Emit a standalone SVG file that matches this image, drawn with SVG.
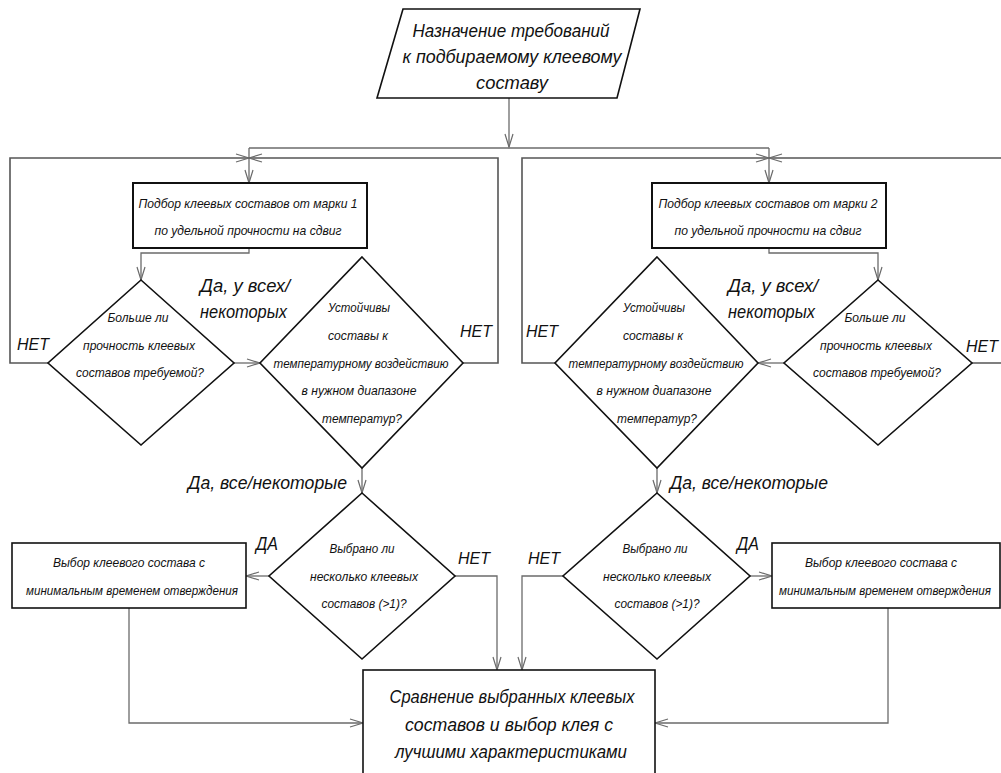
<svg xmlns="http://www.w3.org/2000/svg" width="1001" height="773" viewBox="0 0 1001 773">
<style>
.shape{fill:#fff;stroke:#111;stroke-width:1.6}
.box{fill:#fff;stroke:#111;stroke-width:2}
.con{fill:none;stroke:#6b6b6b;stroke-width:1.3}
.loop{fill:none;stroke:#555;stroke-width:1.6}
text{font-family:"Liberation Sans",Arial,sans-serif;font-style:italic;fill:#111}
.s{font-size:13px;text-anchor:middle}
.t{font-size:12px;text-anchor:middle}
.m{font-size:19px;text-anchor:middle}
.l{font-size:19px}
.n{font-size:17px}
</style>
<defs>
<marker id="arr" markerUnits="userSpaceOnUse" markerWidth="16" markerHeight="10" refX="14" refY="5" orient="auto" viewBox="0 0 16 10">
<path d="M1,1 L14,5 L1,9" fill="none" stroke="#6b6b6b" stroke-width="1.2"/>
</marker>
</defs>
<rect width="1001" height="773" fill="#fff"/>
<g id="connectors">
<path class="con" d="M509,98 V147" marker-end="url(#arr)"/>
<path class="con" d="M249,148 H769"/>
<path class="con" d="M249,148 V183" marker-end="url(#arr)"/>
<path class="con" d="M769,148 V183" marker-end="url(#arr)"/>
<path class="loop" d="M48,363 H10 V158 H249" marker-end="url(#arr)"/>
<path class="loop" d="M463,363 H498 V158 H249" marker-end="url(#arr)"/>
<path class="con" d="M249,248 V253 H141 V280" marker-end="url(#arr)"/>
<path class="con" d="M234,363 H260" marker-end="url(#arr)"/>
<path class="con" d="M362,468 V493" marker-end="url(#arr)"/>
<path class="con" d="M269,576 H246" marker-end="url(#arr)"/>
<path class="con" d="M455,576 H497 V670" marker-end="url(#arr)"/>
<path class="con" d="M129,608 V723 H363" marker-end="url(#arr)"/>
<path class="loop" d="M555,363 H522 V158 H769" marker-end="url(#arr)"/>
<path class="loop" d="M972,363 H1010 V158 H769" marker-end="url(#arr)"/>
<path class="con" d="M769,248 V253 H878 V280" marker-end="url(#arr)"/>
<path class="con" d="M784,363 H758" marker-end="url(#arr)"/>
<path class="con" d="M657,468 V493" marker-end="url(#arr)"/>
<path class="con" d="M750,576 H772" marker-end="url(#arr)"/>
<path class="con" d="M563,576 H522 V670" marker-end="url(#arr)"/>
<path class="con" d="M888,608 V723 H655" marker-end="url(#arr)"/>
</g>
<g id="start">
<polygon class="shape" points="403,9 640,9 617,98 377,98"/>
<text class="m" x="511" y="37" textLength="197" lengthAdjust="spacingAndGlyphs">Назначение требований</text>
<text class="m" x="512" y="63" textLength="219" lengthAdjust="spacingAndGlyphs">к подбираемому клеевому</text>
<text class="m" x="512" y="89" textLength="72" lengthAdjust="spacingAndGlyphs">составу</text>
</g>
<g id="box1">
<rect class="box" x="133" y="183" width="234" height="65"/>
<text class="s" x="248" y="208" textLength="219" lengthAdjust="spacingAndGlyphs">Подбор клеевых составов от марки 1</text>
<text class="s" x="248" y="235" textLength="187" lengthAdjust="spacingAndGlyphs">по удельной прочности на сдвиг</text>
</g>
<g id="box2">
<rect class="box" x="652" y="183" width="234" height="65"/>
<text class="s" x="768" y="208" textLength="219" lengthAdjust="spacingAndGlyphs">Подбор клеевых составов от марки 2</text>
<text class="s" x="768" y="235" textLength="187" lengthAdjust="spacingAndGlyphs">по удельной прочности на сдвиг</text>
</g>
<g id="d1">
<polygon class="shape" points="141,280 234,363 141,445 48,363"/>
<text class="s" x="138" y="322" textLength="61" lengthAdjust="spacingAndGlyphs">Больше ли</text>
<text class="s" x="139" y="350" textLength="112" lengthAdjust="spacingAndGlyphs">прочность клеевых</text>
<text class="s" x="140" y="377" textLength="128" lengthAdjust="spacingAndGlyphs">составов требуемой?</text>
</g>
<g id="d2">
<polygon class="shape" points="362,257 463,363 362,468 260,363"/>
<text class="s" x="359" y="312" textLength="62" lengthAdjust="spacingAndGlyphs">Устойчивы</text>
<text class="s" x="358" y="340" textLength="60" lengthAdjust="spacingAndGlyphs">составы к</text>
<text class="s" x="361" y="368" textLength="175" lengthAdjust="spacingAndGlyphs">температурному воздействию</text>
<text class="s" x="359" y="395" textLength="115" lengthAdjust="spacingAndGlyphs">в нужном диапазоне</text>
<text class="s" x="362" y="423" textLength="80" lengthAdjust="spacingAndGlyphs">температур?</text>
</g>
<g id="d3">
<polygon class="shape" points="362,493 455,576 362,659 269,576"/>
<text class="s" x="362" y="553" textLength="65" lengthAdjust="spacingAndGlyphs">Выбрано ли</text>
<text class="s" x="364" y="581" textLength="108" lengthAdjust="spacingAndGlyphs">несколько клеевых</text>
<text class="s" x="364" y="608" textLength="85" lengthAdjust="spacingAndGlyphs">составов (&gt;1)?</text>
</g>
<g id="r1">
<polygon class="shape" points="878,280 972,363 878,445 784,363"/>
<text class="s" x="875" y="322" textLength="61" lengthAdjust="spacingAndGlyphs">Больше ли</text>
<text class="s" x="876" y="350" textLength="112" lengthAdjust="spacingAndGlyphs">прочность клеевых</text>
<text class="s" x="877" y="377" textLength="128" lengthAdjust="spacingAndGlyphs">составов требуемой?</text>
</g>
<g id="r2">
<polygon class="shape" points="657,257 758,363 657,468 555,363"/>
<text class="s" x="654" y="312" textLength="62" lengthAdjust="spacingAndGlyphs">Устойчивы</text>
<text class="s" x="653" y="340" textLength="60" lengthAdjust="spacingAndGlyphs">составы к</text>
<text class="s" x="656" y="368" textLength="175" lengthAdjust="spacingAndGlyphs">температурному воздействию</text>
<text class="s" x="654" y="395" textLength="115" lengthAdjust="spacingAndGlyphs">в нужном диапазоне</text>
<text class="s" x="657" y="423" textLength="80" lengthAdjust="spacingAndGlyphs">температур?</text>
</g>
<g id="r3">
<polygon class="shape" points="657,493 750,576 657,659 563,576"/>
<text class="s" x="655" y="553" textLength="65" lengthAdjust="spacingAndGlyphs">Выбрано ли</text>
<text class="s" x="657" y="581" textLength="108" lengthAdjust="spacingAndGlyphs">несколько клеевых</text>
<text class="s" x="657" y="608" textLength="85" lengthAdjust="spacingAndGlyphs">составов (&gt;1)?</text>
</g>
<g id="boxL">
<rect class="shape" x="12" y="543" width="234" height="65"/>
<text class="s" x="129" y="567" textLength="152" lengthAdjust="spacingAndGlyphs">Выбор клеевого состава с</text>
<text class="t" x="132" y="595" textLength="212" lengthAdjust="spacingAndGlyphs">минимальным временем отверждения</text>
</g>
<g id="boxR">
<rect class="shape" x="772" y="543" width="228" height="65"/>
<text class="s" x="881" y="567" textLength="152" lengthAdjust="spacingAndGlyphs">Выбор клеевого состава с</text>
<text class="t" x="885" y="595" textLength="212" lengthAdjust="spacingAndGlyphs">минимальным временем отверждения</text>
</g>
<g id="final">
<rect class="shape" x="363" y="670" width="292" height="115"/>
<text class="m" x="512" y="703" textLength="245" lengthAdjust="spacingAndGlyphs">Сравнение выбранных клеевых</text>
<text class="m" x="509" y="731" textLength="208" lengthAdjust="spacingAndGlyphs">составов и выбор клея с</text>
<text class="m" x="511" y="758" textLength="232" lengthAdjust="spacingAndGlyphs">лучшими характеристиками</text>
</g>
<g id="labels">
<text class="l" x="200" y="292" textLength="90" lengthAdjust="spacingAndGlyphs">Да, у всех/</text>
<text class="l" x="200" y="318" textLength="87" lengthAdjust="spacingAndGlyphs">некоторых</text>
<text class="n" x="17" y="350" textLength="32" lengthAdjust="spacingAndGlyphs">НЕТ</text>
<text class="n" x="460" y="337" textLength="32" lengthAdjust="spacingAndGlyphs">НЕТ</text>
<text class="l" x="728" y="292" textLength="90" lengthAdjust="spacingAndGlyphs">Да, у всех/</text>
<text class="l" x="728" y="318" textLength="87" lengthAdjust="spacingAndGlyphs">некоторых</text>
<text class="n" x="526" y="337" textLength="32" lengthAdjust="spacingAndGlyphs">НЕТ</text>
<text class="n" x="966" y="352" textLength="32" lengthAdjust="spacingAndGlyphs">НЕТ</text>
<text class="l" x="188" y="489" textLength="159" lengthAdjust="spacingAndGlyphs">Да, все/некоторые</text>
<text class="l" x="670" y="489" textLength="158" lengthAdjust="spacingAndGlyphs">Да, все/некоторые</text>
<text class="l" x="256" y="550" textLength="22" lengthAdjust="spacingAndGlyphs">ДА</text>
<text class="n" x="458" y="564" textLength="32" lengthAdjust="spacingAndGlyphs">НЕТ</text>
<text class="n" x="528" y="564" textLength="32" lengthAdjust="spacingAndGlyphs">НЕТ</text>
<text class="l" x="737" y="550" textLength="22" lengthAdjust="spacingAndGlyphs">ДА</text>
</g>
</svg>
